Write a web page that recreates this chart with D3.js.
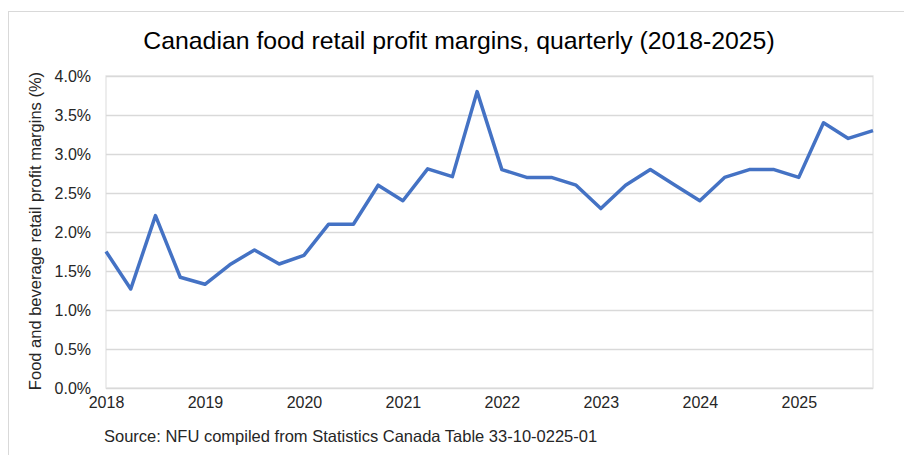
<!DOCTYPE html>
<html>
<head>
<meta charset="utf-8">
<script src="https://cdn.jsdelivr.net/npm/d3@7"></script>
<style>
  html, body { margin: 0; padding: 0; background: #fff; }
  svg { display: block; font-family: "Liberation Sans", Arial, sans-serif; }
</style>
</head>
<body>
<svg id="chart" width="904" height="455"></svg>
<script>
const title = "Canadian food retail profit margins, quarterly (2018-2025)";
const yAxisTitle = "Food and beverage retail profit margins (%)";
const sourceNote = "Source: NFU compiled from Statistics Canada Table 33-10-0225-01";
const years = [2018, 2019, 2020, 2021, 2022, 2023, 2024, 2025];
const quarters = ["Q1", "Q2", "Q3", "Q4"];
const yTicks = [0, 0.5, 1.0, 1.5, 2.0, 2.5, 3.0, 3.5, 4.0];
const margins = [
  1.75, 1.27, 2.21, 1.42,
  1.33, 1.58, 1.77, 1.59,
  1.70, 2.10, 2.10, 2.60,
  2.40, 2.81, 2.71, 3.80,
  2.80, 2.70, 2.70, 2.60,
  2.30, 2.60, 2.80, 2.60,
  2.40, 2.70, 2.80, 2.80,
  2.70, 3.40, 3.20, 3.30
];

const periods = years.flatMap(y => quarters.map(q => y + " " + q));
const data = periods.map((p, i) => ({ period: p, value: margins[i] }));

const svg = d3.select("#chart");
const plot = { left: 106, right: 873, top: 76, bottom: 388 };
const FONT = "Liberation Sans, Arial, sans-serif";

// outer frame
svg.append("rect")
  .attr("x", 8.5).attr("y", 11.5)
  .attr("width", 904).attr("height", 460)
  .attr("fill", "none").attr("stroke", "#d9d9d9").attr("stroke-width", 1);

const x = d3.scalePoint().domain(periods).range([plot.left, plot.right]);
const y = d3.scaleLinear().domain([0, 4]).range([plot.bottom, plot.top]);

// plot area border
svg.append("rect")
  .attr("x", plot.left).attr("y", plot.top)
  .attr("width", plot.right - plot.left).attr("height", plot.bottom - plot.top)
  .attr("fill", "none").attr("stroke", "#e8e8e8").attr("stroke-width", 1.5);

// gridlines
svg.append("g")
  .attr("transform", `translate(${plot.left},0)`)
  .call(d3.axisLeft(y).tickValues(yTicks).tickSize(-(plot.right - plot.left)).tickFormat(""))
  .call(g => g.select(".domain").remove())
  .call(g => g.selectAll("line").attr("stroke", "#d9d9d9").attr("stroke-width", 1.5));

// y labels
svg.append("g")
  .attr("transform", `translate(${plot.left - 15},0)`)
  .call(d3.axisLeft(y).tickValues(yTicks).tickSize(0).tickPadding(0).tickFormat(d => d.toFixed(1) + "%"))
  .call(g => g.select(".domain").remove())
  .call(g => g.selectAll("text")
    .attr("fill", "#262626").attr("font-size", 16)
    .attr("font-family", FONT));

// x labels
const yearTicks = periods.filter((p, i) => i % 4 === 0);
svg.append("g")
  .attr("transform", `translate(0,${plot.bottom + 9})`)
  .call(d3.axisBottom(x).tickValues(yearTicks).tickSize(0).tickPadding(0).tickFormat(p => p.slice(0, 4)))
  .call(g => g.select(".domain").remove())
  .call(g => g.selectAll("text")
    .attr("fill", "#262626").attr("font-size", 16)
    .attr("font-family", FONT));

// line
svg.append("path")
  .datum(data)
  .attr("fill", "none")
  .attr("stroke", "#4472C4")
  .attr("stroke-width", 3.5)
  .attr("stroke-linejoin", "round")
  .attr("d", d3.line().x(d => x(d.period)).y(d => y(d.value)));

// title
svg.append("text")
  .attr("x", 459).attr("y", 49)
  .attr("text-anchor", "middle")
  .attr("font-size", 24.8)
  .attr("fill", "#000")
  .text(title);

// y axis title
svg.append("text")
  .attr("transform", `translate(41,231) rotate(-90)`)
  .attr("text-anchor", "middle")
  .attr("font-size", 16.5)
  .attr("fill", "#262626")
  .text(yAxisTitle);

// source
svg.append("text")
  .attr("x", 104).attr("y", 442)
  .attr("font-size", 16.5)
  .attr("fill", "#262626")
  .text(sourceNote);
</script>
</body>
</html>
